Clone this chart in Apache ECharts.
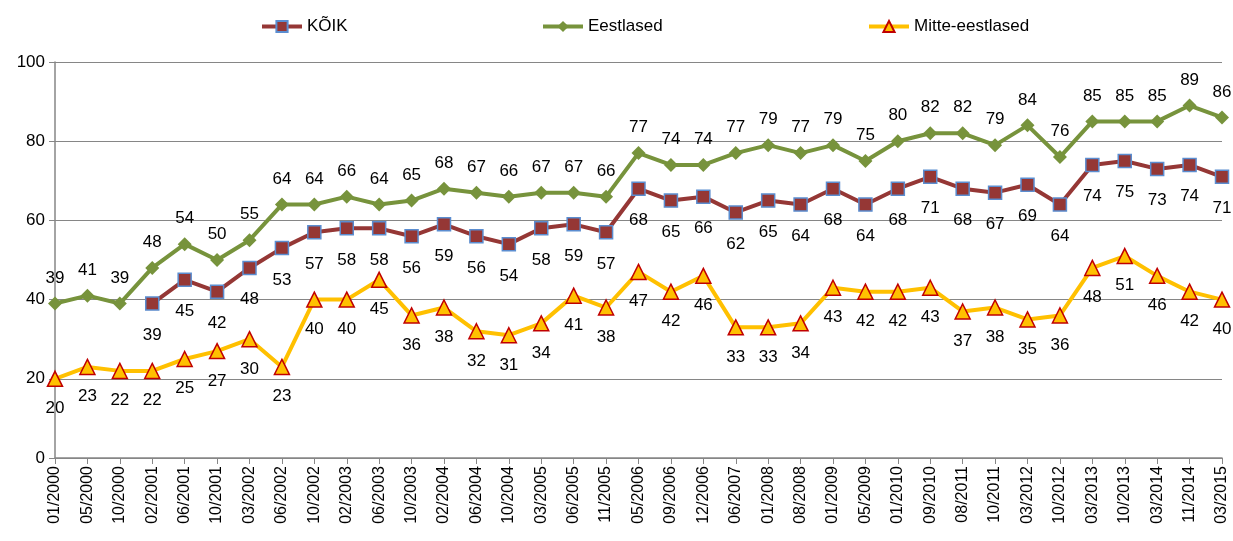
<!DOCTYPE html>
<html>
<head>
<meta charset="utf-8">
<script src="https://cdn.jsdelivr.net/npm/echarts@6/dist/echarts.min.js"></script>
<style>
  html, body { margin: 0; padding: 0; background: #fff; }
  #chart { width: 1233px; height: 541px; }
</style>
</head>
<body>
<div id="chart"></div>
<script>
var categories = ["01/2000", "05/2000", "10/2000", "02/2001", "06/2001", "10/2001", "03/2002", "06/2002",
  "10/2002", "02/2003", "06/2003", "10/2003", "02/2004", "06/2004", "10/2004", "03/2005", "06/2005",
  "11/2005", "05/2006", "09/2006", "12/2006", "06/2007", "01/2008", "08/2008", "01/2009", "05/2009",
  "01/2010", "09/2010", "08/2011", "10/2011", "03/2012", "10/2012", "03/2013", "10/2013", "03/2014",
  "11/2014", "03/2015"];

var koik = [null, null, null, 39, 45, 42, 48, 53, 57, 58, 58, 56, 59, 56, 54, 58, 59, 57, 68, 65, 66,
  62, 65, 64, 68, 64, 68, 71, 68, 67, 69, 64, 74, 75, 73, 74, 71];
var eestlased = [39, 41, 39, 48, 54, 50, 55, 64, 64, 66, 64, 65, 68, 67, 66, 67, 67, 66, 77, 74, 74,
  77, 79, 77, 79, 75, 80, 82, 82, 79, 84, 76, 85, 85, 85, 89, 86];
var mitte = [20, 23, 22, 22, 25, 27, 30, 23, 40, 40, 45, 36, 38, 32, 31, 34, 41, 38, 47, 42, 46,
  33, 33, 34, 43, 42, 42, 43, 37, 38, 35, 36, 48, 51, 46, 42, 40];

var seriesNames = ["KÕIK", "Eestlased", "Mitte-eestlased"];
var legendLeft = [255, 536, 862];

var chart = echarts.init(document.getElementById("chart"));
var font = "Liberation Sans, Arial, sans-serif";
var labelStyle = { show: true, fontSize: 17, color: "#000", fontFamily: font };

var legends = seriesNames.map(function (name, i) {
  return {
    top: 13,
    left: legendLeft[i],
    itemWidth: 40,
    itemHeight: 14,
    itemGap: 0,
    lineStyle: { width: 4 },
    textStyle: { fontSize: 17, color: "#000" },
    data: [name]
  };
});

var option = {
  animation: false,
  textStyle: { fontFamily: font },
  legend: legends,
  grid: { left: 55, right: 11, top: 62, bottom: 83, containLabel: false },
  xAxis: {
    type: "category",
    data: categories,
    boundaryGap: false,
    axisLine: { lineStyle: { color: "#868686", width: 1.5 } },
    axisTick: { show: true, alignWithLabel: true, length: 6, lineStyle: { color: "#868686" } },
    axisLabel: { rotate: 90, fontSize: 16, color: "#000", interval: 0, margin: 8 }
  },
  yAxis: {
    type: "value",
    min: 0,
    max: 100,
    interval: 20,
    axisLine: { show: true, lineStyle: { color: "#868686", width: 1.5 } },
    axisTick: { show: true, length: 6, lineStyle: { color: "#868686" } },
    axisLabel: { fontSize: 17, color: "#000", margin: 10 },
    splitLine: { lineStyle: { color: "#868686", width: 1.2 } }
  },
  series: [
    {
      name: "KÕIK",
      type: "line",
      data: koik,
      symbol: "rect",
      symbolSize: 13,
      lineStyle: { color: "#953735", width: 4 },
      itemStyle: { color: "#953735", borderColor: "#5B8DD0", borderWidth: 1.5 },
      label: Object.assign({ position: "bottom", distance: 16 }, labelStyle),
      z: 3
    },
    {
      name: "Eestlased",
      type: "line",
      data: eestlased,
      symbol: "diamond",
      symbolSize: 14,
      lineStyle: { color: "#77933C", width: 4 },
      itemStyle: { color: "#77933C" },
      label: Object.assign({ position: "top", distance: 10 }, labelStyle),
      z: 2
    },
    {
      name: "Mitte-eestlased",
      type: "line",
      data: mitte,
      symbol: "triangle",
      symbolSize: 15,
      lineStyle: { color: "#FFC000", width: 4 },
      itemStyle: { color: "#FFC000", borderColor: "#C00000", borderWidth: 1.5 },
      label: Object.assign({ position: "bottom", distance: 13 }, labelStyle),
      z: 4
    }
  ]
};
chart.setOption(option);
</script>
</body>
</html>
